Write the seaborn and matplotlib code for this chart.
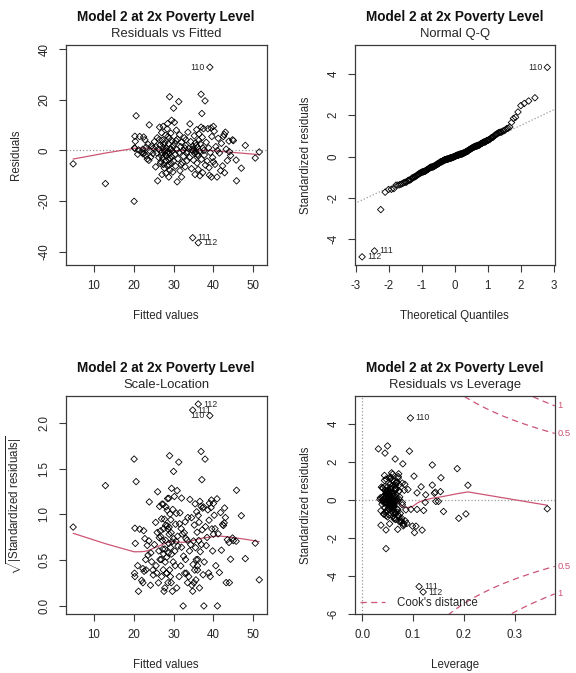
import numpy as np
import matplotlib
matplotlib.use("Agg")
import matplotlib.pyplot as plt
import matplotlib.transforms as mtransforms
from matplotlib.lines import Line2D
import seaborn as sns
from statistics import NormalDist

# ---- Model 2 (2x poverty level): per-observation fit results ----
fitted_vals = np.array([
    4.8, 12.9, 20.1, 20.6, 20.3, 20.4, 20.2, 20.3, 21.0, 21.5,
    21.2, 22.0, 22.3, 22.3, 22.5, 22.8, 22.6, 23.0, 23.1, 23.4,
    23.9, 23.8, 23.6, 24.2, 24.5, 24.8, 24.3, 24.9, 25.2, 25.5,
    25.8, 25.9, 26.0, 26.2, 26.3, 26.5, 26.6, 26.8, 27.0, 27.0,
    27.1, 27.2, 27.3, 27.4, 27.5, 27.6, 27.7, 27.8, 27.9, 28.0,
    28.0, 28.1, 28.2, 28.3, 28.4, 28.4, 28.5, 28.6, 28.7, 28.8,
    28.8, 28.9, 29.0, 29.0, 29.1, 29.2, 29.3, 29.4, 29.5, 29.5,
    29.6, 29.7, 29.8, 29.9, 30.0, 30.0, 25.6, 26.9, 27.4, 28.6,
    29.2, 27.8, 28.9, 26.4, 27.5, 28.3, 29.4, 26.7, 30.2, 30.3,
    30.4, 30.5, 30.7, 30.8, 30.9, 31.0, 31.1, 31.3, 31.4, 31.5,
    31.6, 31.8, 32.0, 32.0, 32.2, 32.4, 32.5, 32.7, 32.9, 39.1,
    34.8, 36.2, 33.0, 33.2, 33.4, 33.6, 33.8, 34.0, 34.1, 34.3,
    34.5, 34.6, 34.8, 34.9, 35.0, 31.9, 33.1, 30.6, 32.8, 33.5,
    35.1, 35.2, 35.3, 35.4, 35.5, 35.6, 35.8, 35.9, 36.0, 36.1,
    36.2, 36.3, 36.5, 36.6, 36.7, 36.9, 36.9, 37.0, 37.1, 37.2,
    37.3, 37.5, 37.6, 37.7, 37.9, 38.0, 38.2, 38.4, 38.6, 38.8,
    39.0, 39.2, 39.4, 39.5, 39.6, 39.8, 40.0, 40.0, 36.4, 38.9,
    35.7, 37.4, 36.0, 40.2, 40.4, 40.6, 40.9, 41.2, 41.5, 41.8,
    42.0, 42.3, 42.5, 42.7, 42.8, 43.0, 43.2, 43.5, 43.9, 44.3,
    44.8, 45.0, 45.7, 45.8, 47.0, 48.0, 50.5, 51.5, 41.0, 44.0,
])

residual_vals = np.array([
    -5.3, -13.1, -20.1, 13.7, 5.6, 3.6, 1.0, 0.8, -1.5, 5.5,
    0.2, -0.6, 0.5, -1.3, 5.3, 4.2, -1.1, -2.0, 1.2, -3.4,
    10.1, -3.9, 2.4, -0.4, 1.8, -1.2, -2.6, 0.9, 3.5, -6.5,
    -1.0, 5.0, -12.0, 0.5, -2.8, 9.2, 2.0, -4.5, 7.0, -0.8,
    -9.5, 4.0, -3.0, 1.2, -5.5, 0.2, -7.0, 3.0, -1.8, 6.0,
    -4.0, -9.0, 1.0, -2.2, 8.5, -6.0, 10.6, -0.5, 2.6, -3.6,
    -10.5, 4.8, 21.2, -1.2, -7.8, 0.8, 6.8, -5.0, 11.9, -2.5,
    3.8, -0.2, -8.5, 1.8, 16.7, -4.2, 1.5, -2.0, 9.5, 5.5,
    -3.2, -0.3, -5.8, 4.3, 2.5, -1.0, 0.5, -5.2, 11.1, 2.8,
    -1.5, -6.2, 8.0, 0.3, -12.4, 4.5, -3.3, 19.3, -0.8, 6.2,
    -8.0, 1.5, -10.5, 3.2, -4.8, 0.0, -2.3, 5.0, -6.5, 32.9,
    -34.5, -36.5, 2.0, -1.0, -4.0, 7.2, 0.8, -2.8, 10.5, 3.5,
    -7.2, 0.4, -0.2, 1.6, -3.8, -5.5, 4.2, 3.9, 1.0, -0.5,
    0.5, 5.8, -1.2, -9.5, 3.0, -0.6, 8.2, -5.0, 1.2, -2.0,
    -7.5, 4.0, -0.3, -10.0, 2.6, 22.2, 9.2, -3.5, 14.6, 5.2,
    -8.8, 8.6, 0.0, -1.8, 19.6, -5.8, 3.2, -4.2, 8.6, 1.0,
    -9.8, -0.8, 8.9, -10.5, 5.5, -2.8, 9.5, -4.5, 6.5, -6.8,
    2.0, 0.9, -1.5, 7.6, -5.5, 1.5, -10.5, 4.8, -1.0, -8.0,
    2.8, -6.1, 5.5, 6.3, -8.8, 7.2, 0.5, -4.0, 3.7, -2.0,
    4.2, 3.9, -3.8, -12.0, -7.0, 2.0, -3.0, -0.6, 0.0, -0.5,
])

leverage_vals = np.array([
    0.204, 0.103, 0.047, 0.138, 0.058, 0.072, 0.040, 0.052, 0.061, 0.045,
    0.035, 0.066, 0.050, 0.043, 0.038, 0.057, 0.079, 0.048, 0.062, 0.055,
    0.044, 0.070, 0.053, 0.041, 0.064, 0.049, 0.059, 0.036, 0.051, 0.047,
    0.060, 0.056, 0.070, 0.042, 0.063, 0.054, 0.048, 0.037, 0.067, 0.052,
    0.082, 0.045, 0.058, 0.074, 0.061, 0.043, 0.050, 0.057, 0.039, 0.066,
    0.053, 0.076, 0.048, 0.062, 0.055, 0.044, 0.072, 0.059, 0.047, 0.068,
    0.099, 0.041, 0.032, 0.056, 0.063, 0.051, 0.079, 0.046, 0.187, 0.058,
    0.064, 0.040, 0.085, 0.053, 0.065, 0.049, 0.061, 0.055, 0.071, 0.050,
    0.045, 0.057, 0.042, 0.066, 0.060, 0.047, 0.054, 0.065, 0.058, 0.047,
    0.062, 0.053, 0.044, 0.068, 0.047, 0.056, 0.060, 0.045, 0.051, 0.073,
    0.066, 0.042, 0.106, 0.055, 0.049, 0.063, 0.058, 0.040, 0.072, 0.095,
    0.112, 0.120, 0.054, 0.046, 0.061, 0.069, 0.052, 0.057, 0.060, 0.048,
    0.064, 0.043, 0.060, 0.050, 0.108, 0.075, 0.067, 0.050, 0.045, 0.058,
    0.055, 0.138, 0.047, 0.088, 0.144, 0.145, 0.059, 0.069, 0.053, 0.058,
    0.078, 0.045, 0.066, 0.082, 0.142, 0.050, 0.057, 0.052, 0.080, 0.116,
    0.073, 0.155, 0.048, 0.050, 0.093, 0.064, 0.154, 0.121, 0.047, 0.067,
    0.054, 0.060, 0.071, 0.037, 0.058, 0.062, 0.102, 0.160, 0.055, 0.061,
    0.048, 0.057, 0.050, 0.063, 0.066, 0.057, 0.081, 0.065, 0.124, 0.076,
    0.108, 0.070, 0.208, 0.084, 0.077, 0.068, 0.072, 0.086, 0.073, 0.079,
    0.090, 0.083, 0.096, 0.118, 0.190, 0.125, 0.364, 0.150, 0.060, 0.070,
])

n_coef = 15                     # number of model coefficients
cook_levels = [0.5, 1.0]
cook_level_labels = ["0.5", "1"]
main_title = "Model 2 at 2x Poverty Level"
captions = ["Residuals vs Fitted", "Normal Q-Q", "Scale-Location", "Residuals vs Leverage"]

# ---- derived diagnostics ----
n = len(fitted_vals)
obs_id = np.arange(1, n + 1)
sigma = np.sqrt(np.sum(residual_vals ** 2) / (n - n_coef))
std_resid = residual_vals / (sigma * np.sqrt(1.0 - leverage_vals))
extreme = np.argsort(-np.abs(std_resid))[:3]


def lowess_smooth(x, y, frac=2 / 3, iters=3):
    order = np.argsort(x, kind="mergesort")
    xs = np.asarray(x, float)[order]
    ys = np.asarray(y, float)[order]
    m = len(xs)
    ns = max(2, min(m, int(frac * m + 1e-7)))
    robust = np.ones(m)
    fit = np.zeros(m)
    for it in range(iters + 1):
        for i in range(m):
            d = np.abs(xs - xs[i])
            h = max(np.sort(d)[ns - 1], 1e-12)
            u = np.clip(d / h, 0, 1)
            w = np.where(d / h < 0.999, (1 - u ** 3) ** 3, 0.0)
            w = np.where(d / h <= 0.001, 1.0, w) * robust
            sw = w.sum()
            if sw <= 0:
                fit[i] = ys[i]
                continue
            xm = np.sum(w * xs) / sw
            ym = np.sum(w * ys) / sw
            sxx = np.sum(w * (xs - xm) ** 2)
            b = np.sum(w * (xs - xm) * (ys - ym)) / sxx if sxx > 1e-12 else 0.0
            fit[i] = ym + b * (xs[i] - xm)
        if it == iters:
            break
        res = ys - fit
        mad = np.median(np.abs(res))
        if mad == 0:
            break
        u = res / (6 * mad)
        robust = np.where(np.abs(u) < 1, (1 - u ** 2) ** 2, 0.0)
    return xs, fit


def r_lim(lo, hi):
    d = hi - lo
    return lo - 0.04 * d, hi + 0.04 * d


def extend(lo, hi, f):
    d = hi - lo
    return lo - f * d, hi + f * d


# ---- style ----
sns.set_theme(style="ticks")
plt.rcParams["font.family"] = ["Liberation Sans", "DejaVu Sans"]
plt.rcParams["mathtext.fontset"] = "custom"
plt.rcParams["mathtext.rm"] = "Liberation Sans"
plt.rcParams["mathtext.it"] = "Liberation Sans:italic"
plt.rcParams["mathtext.bf"] = "Liberation Sans:bold"
plt.rcParams["axes.unicode_minus"] = False

RED = "#CC5575"
GREY = "#9a9a9a"
FRAME = "#3a3a3a"
TXT = "#262626"
LAB_FS = 8.3
ID_FS = 6.3
pt_kw = dict(marker="D", s=11, facecolor="none", edgecolor="black",
             linewidth=0.6, legend=False, zorder=3)

fig = plt.figure(figsize=(5.76, 6.73), dpi=100)
W, H = 576.0, 673.0
ax1 = fig.add_axes([65.7 / W, 1 - 265 / H, 201 / W, 220 / H])
ax2 = fig.add_axes([354.7 / W, 1 - 265 / H, 200 / W, 220 / H])
ax3 = fig.add_axes([65.7 / W, 1 - 614 / H, 201 / W, 218 / H])
ax4 = fig.add_axes([354.7 / W, 1 - 614 / H, 200 / W, 218 / H])


def style_axes(ax, caption, xlabel, ylabel, xticks, yticks, yfmt=None, ylab_x=-0.248):
    for sp in ax.spines.values():
        sp.set_visible(True)
        sp.set_color(FRAME)
        sp.set_linewidth(0.9)
    ax.set_xticks(xticks)
    ax.set_yticks(yticks)
    if yfmt:
        ax.set_yticklabels([yfmt.format(v) for v in yticks])
    ax.tick_params(direction="out", length=5, width=0.8, color=FRAME,
                   labelsize=LAB_FS, labelcolor=TXT, pad=6)
    for lab in ax.get_yticklabels():
        lab.set_rotation(90)
        lab.set_va("center")
    h_px = ax.get_position().height * H
    ax.set_xlabel(xlabel, fontsize=LAB_FS, color=TXT)
    ax.set_ylabel(ylabel, fontsize=LAB_FS, color=TXT)
    ax.xaxis.label.set_va("center")
    ax.yaxis.label.set_va("center")
    ax.xaxis.set_label_coords(0.5, -51 / h_px)
    ax.yaxis.set_label_coords(ylab_x, 0.5)
    ax.text(0.5, 1 + 28 / h_px, main_title, transform=ax.transAxes, ha="center",
            va="center", fontsize=9.8, fontweight="bold", color="#111111")
    ax.text(0.5, 1 + 11 / h_px, caption, transform=ax.transAxes, ha="center",
            va="center", fontsize=9.4, color=TXT)


def label_points(ax, xs, ys, ids, left_ids):
    for x, y, i in zip(xs, ys, ids):
        left = i in left_ids
        ax.annotate(str(i), (x, y), xytext=(-3.5 if left else 3.5, 0),
                    textcoords="offset points", ha="right" if left else "left",
                    va="center", fontsize=ID_FS, color=TXT, zorder=4)


# 1. Residuals vs Fitted
ax = ax1
sns.scatterplot(x=fitted_vals, y=residual_vals, ax=ax, **pt_kw)
ax.axhline(0, color=GREY, ls=":", lw=0.9, zorder=1)
lx, ly = lowess_smooth(fitted_vals, residual_vals)
sns.lineplot(x=lx, y=ly, ax=ax, color=RED, lw=0.9, estimator=None, sort=False, zorder=2)
ax.set_xlim(*r_lim(fitted_vals.min(), fitted_vals.max()))
ax.set_ylim(*r_lim(*extend(residual_vals.min(), residual_vals.max(), 0.08)))
label_points(ax, fitted_vals[extreme], residual_vals[extreme], obs_id[extreme], {110})
style_axes(ax, captions[0], "Fitted values", "Residuals",
           [10, 20, 30, 40, 50], [-40, -20, 0, 20, 40])

# 2. Normal Q-Q
ax = ax2
nd = NormalDist()
theo = np.array([nd.inv_cdf((i + 0.5) / n) for i in range(n)])
order = np.argsort(std_resid)
sorted_rs = std_resid[order]
sns.scatterplot(x=theo, y=sorted_rs, ax=ax, **pt_kw)
q1, q3 = np.quantile(std_resid, [0.25, 0.75])
z1, z3 = nd.inv_cdf(0.25), nd.inv_cdf(0.75)
slope = (q3 - q1) / (z3 - z1)
ax.axline((0, q1 - slope * z1), slope=slope, color=GREY, ls=":", lw=0.9, zorder=1)
ax.set_xlim(*r_lim(theo.min(), theo.max()))
ylo, yhi = std_resid.min(), std_resid.max()
ax.set_ylim(*r_lim(ylo, yhi + 0.075 * (yhi - ylo)))
rank = np.empty(n, int)
rank[order] = np.arange(n)
label_points(ax, theo[rank[extreme]], std_resid[extreme], obs_id[extreme], {110})
style_axes(ax, captions[1], "Theoretical Quantiles", "Standardized residuals",
           [-3, -2, -1, 0, 1, 2, 3], [-4, -2, 0, 2, 4], ylab_x=-0.243)

# 3. Scale-Location
ax = ax3
sqrt_abs = np.sqrt(np.abs(std_resid))
sns.scatterplot(x=fitted_vals, y=sqrt_abs, ax=ax, **pt_kw)
lx, ly = lowess_smooth(fitted_vals, sqrt_abs)
sns.lineplot(x=lx, y=ly, ax=ax, color=RED, lw=0.9, estimator=None, sort=False, zorder=2)
ax.set_xlim(*r_lim(fitted_vals.min(), fitted_vals.max()))
ax.set_ylim(*r_lim(0, sqrt_abs.max()))
label_points(ax, fitted_vals[extreme], sqrt_abs[extreme], obs_id[extreme], {110})
style_axes(ax, captions[2], "Fitted values",
           r"$\sqrt{|\mathrm{Standardized\ residuals}|}$",
           [10, 20, 30, 40, 50], [0.0, 0.5, 1.0, 1.5, 2.0], yfmt="{:.1f}", ylab_x=-0.255)

# 4. Residuals vs Leverage
ax = ax4
sns.scatterplot(x=leverage_vals, y=std_resid, ax=ax, **pt_kw)
ax.axhline(0, color=GREY, ls=":", lw=0.9, zorder=1)
ax.axvline(0, color=GREY, ls=":", lw=0.9, zorder=1)
lx, ly = lowess_smooth(leverage_vals, std_resid)
sns.lineplot(x=lx, y=ly, ax=ax, color=RED, lw=0.9, estimator=None, sort=False, zorder=2)
xl = r_lim(0, leverage_vals.max())
ax.set_xlim(*xl)
ax.set_ylim(*r_lim(*extend(std_resid.min(), std_resid.max(), 0.08)))
hh = np.linspace(min(leverage_vals.min(), leverage_vals.max() / 100), xl[1], 101)
trans = mtransforms.blended_transform_factory(ax.transAxes, ax.transData)
for lev, lab in zip(cook_levels, cook_level_labels):
    ch = np.sqrt(lev * n_coef * (1 - hh) / hh)
    for sgn in (1, -1):
        ax.plot(hh, sgn * ch, color=RED, ls=(0, (5, 3.5)), lw=0.9, zorder=2)
        yv = sgn * np.sqrt(lev * n_coef * (1 - xl[1]) / xl[1])
        ax.text(1.015, yv, lab, transform=trans, ha="left", va="center",
                fontsize=6.8, color=RED, clip_on=False)
label_points(ax, leverage_vals[extreme], std_resid[extreme], obs_id[extreme], set())
ax.legend(handles=[Line2D([], [], color=RED, ls=(0, (5, 3.5)), lw=0.9)],
          labels=["Cook's distance"], loc="lower left", frameon=False,
          fontsize=LAB_FS, handlelength=2.2, handletextpad=1.0,
          borderaxespad=0.15, borderpad=0.3, labelcolor=TXT)
style_axes(ax, captions[3], "Leverage", "Standardized residuals",
           [0.0, 0.1, 0.2, 0.3], [-6, -4, -2, 0, 2, 4], ylab_x=-0.243)
ax.set_xticklabels(["0.0", "0.1", "0.2", "0.3"])

fig.savefig("out.png", dpi=100, facecolor="white")
